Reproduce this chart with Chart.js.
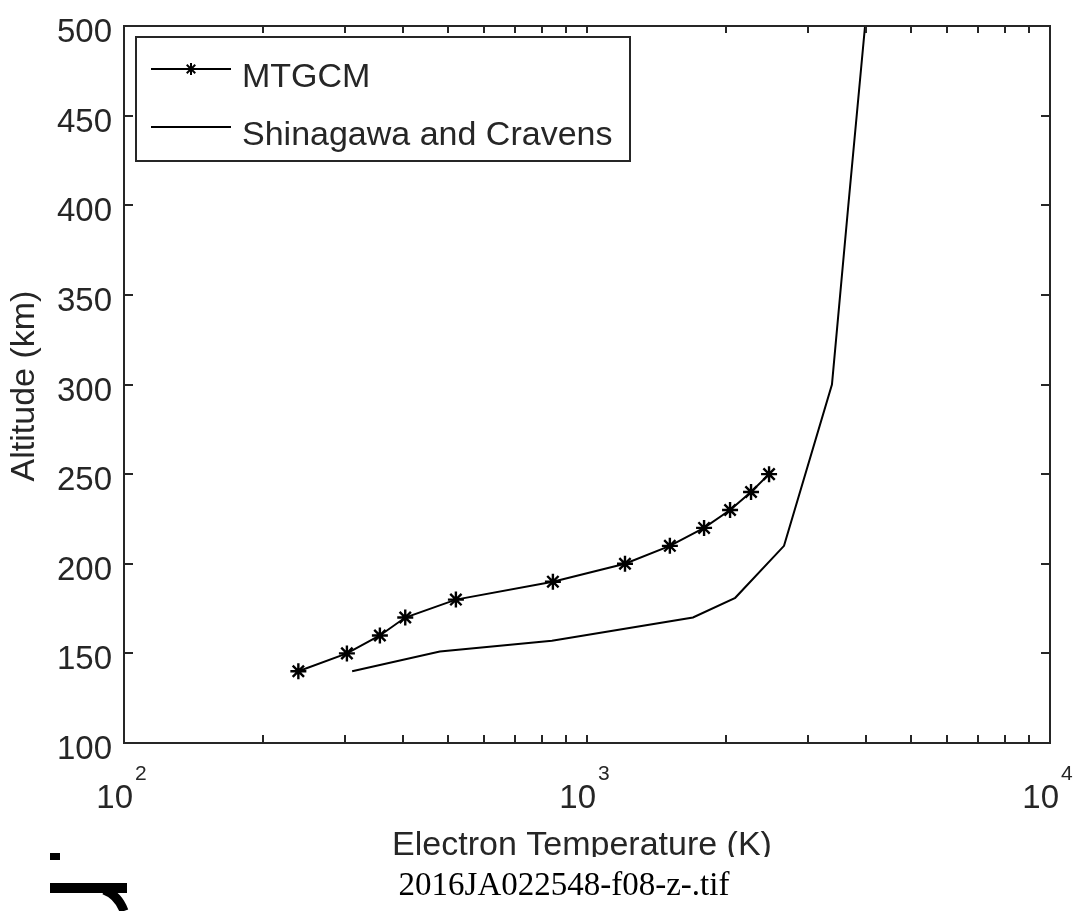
<!DOCTYPE html>
<html>
<head>
<meta charset="utf-8">
<script src="https://cdn.jsdelivr.net/npm/chart.js@4.4.1/dist/chart.umd.min.js"></script>
<style>
  html, body { margin: 0; padding: 0; background: #fff; }
  #wrap { width: 1081px; height: 911px; position: relative; }
  canvas { display: block; }
</style>
</head>
<body>
<div id="wrap"><canvas id="c" width="1081" height="911"></canvas></div>
<script>
// ---- data ----
const mtgcmTemp = [238, 303, 357, 405, 521, 844, 1208, 1510, 1790, 2037, 2261, 2473];
const mtgcmAlt  = [140, 150, 160, 170, 180, 190, 200, 210, 220, 230, 240, 250];
const scTemp    = [311, 481, 840, 1694, 2090, 2664, 3381, 3668, 3986];
const scAlt     = [140, 151, 157, 170, 181, 210, 300, 400, 500];
const seriesNames = ['MTGCM', 'Shinagawa and Cravens'];
const yTicks = [100, 150, 200, 250, 300, 350, 400, 450, 500];
const xMajorTicks = [100, 1000, 10000];
const xMajorExp = ['2', '3', '4'];
const xMinorTicks = [200, 300, 400, 500, 600, 700, 800, 900, 2000, 3000, 4000, 5000, 6000, 7000, 8000, 9000];
const xTitle = 'Electron Temperature (K)';
const yTitle = 'Altitude (km)';
const caption = '2016JA022548-f08-z-.tif';

const toPts = (xs, ys) => xs.map((x, i) => ({ x: x, y: ys[i] }));

const INK = '#262626';
const FONT = '"Liberation Sans", Arial, Helvetica, sans-serif';

const decor = {
  id: 'decor',
  afterDraw(chart) {
    const ctx = chart.ctx;
    const a = chart.chartArea;
    const xs = chart.scales.x, ys = chart.scales.y;
    ctx.save();
    ctx.strokeStyle = INK;
    ctx.fillStyle = INK;
    ctx.lineWidth = 2;
    // axes box
    ctx.strokeRect(a.left, a.top, a.right - a.left, a.bottom - a.top);
    // y ticks (inward, both sides)
    const tl = 9;
    ctx.beginPath();
    yTicks.forEach(v => {
      const py = Math.round(ys.getPixelForValue(v));
      ctx.moveTo(a.left, py); ctx.lineTo(a.left + tl, py);
      ctx.moveTo(a.right, py); ctx.lineTo(a.right - tl, py);
    });
    // x ticks (inward, top and bottom)
    xMajorTicks.concat(xMinorTicks).forEach(v => {
      const px = Math.round(xs.getPixelForValue(v));
      ctx.moveTo(px, a.bottom); ctx.lineTo(px, a.bottom - 8);
      ctx.moveTo(px, a.top); ctx.lineTo(px, a.top + 7);
    });
    ctx.stroke();

    // y tick labels
    ctx.font = '33px ' + FONT;
    ctx.textAlign = 'right';
    ctx.textBaseline = 'alphabetic';
    yTicks.forEach(v => {
      const py = ys.getPixelForValue(v);
      ctx.fillText(String(v), a.left - 12, py + 16);
    });
    // x tick labels 10^n
    xMajorTicks.forEach((v, i) => {
      const px = xs.getPixelForValue(v);
      ctx.font = '33px ' + FONT;
      ctx.textAlign = 'right';
      ctx.fillText('10', px + 9, a.bottom + 65);
      ctx.font = '21px ' + FONT;
      ctx.textAlign = 'left';
      ctx.fillText(xMajorExp[i], px + 11, a.bottom + 37);
    });

    // x axis title (cropped at bottom as in the reference)
    ctx.save();
    ctx.beginPath();
    ctx.rect(0, 780, 1081, 77);
    ctx.clip();
    ctx.font = '34px ' + FONT;
    ctx.textAlign = 'center';
    ctx.fillText(xTitle, 582, 855);
    ctx.restore();

    // y axis title
    ctx.save();
    ctx.translate(34, 386);
    ctx.rotate(-Math.PI / 2);
    ctx.font = '34px ' + FONT;
    ctx.textAlign = 'center';
    ctx.fillText(yTitle, 0, 0);
    ctx.restore();

    // legend
    const lx = 136, ly = 37, lw = 494, lh = 124;
    ctx.fillStyle = '#fff';
    ctx.fillRect(lx, ly, lw, lh);
    ctx.strokeStyle = INK;
    ctx.lineWidth = 2;
    ctx.strokeRect(lx, ly, lw, lh);
    ctx.fillStyle = INK;
    const rows = [69, 127];
    const ds = chart.data.datasets;
    rows.forEach((ry, i) => {
      ctx.strokeStyle = '#000';
      ctx.lineWidth = 2;
      ctx.beginPath();
      ctx.moveTo(151, ry); ctx.lineTo(231, ry);
      ctx.stroke();
      if (ds[i].pointRadius > 0) {
        Chart.helpers.drawPoint(ctx, {
          pointStyle: 'star', radius: 6, borderWidth: 2, rotation: 0
        }, 191, ry);
      }
      ctx.font = '34px ' + FONT;
      ctx.textAlign = 'left';
      ctx.fillStyle = INK;
      ctx.fillText(seriesNames[i], 242, ry + 18);
    });

    // caption below figure
    ctx.fillStyle = '#000';
    ctx.font = '33px "Liberation Serif", "Times New Roman", serif';
    ctx.textAlign = 'center';
    ctx.fillText(caption, 564, 895);

    // cropped glyph fragment at lower left
    ctx.fillRect(50, 853, 10, 7);
    ctx.fillRect(50, 883, 77, 10);
    ctx.lineWidth = 9;
    ctx.strokeStyle = '#000';
    ctx.beginPath();
    ctx.moveTo(104, 890);
    ctx.quadraticCurveTo(118, 895, 124, 911);
    ctx.stroke();
    ctx.restore();
  }
};

new Chart(document.getElementById('c'), {
  type: 'scatter',
  data: {
    datasets: [
      {
        label: seriesNames[0],
        data: toPts(mtgcmTemp, mtgcmAlt),
        showLine: true,
        borderColor: '#000',
        backgroundColor: '#000',
        borderWidth: 2,
        pointStyle: 'star',
        pointRadius: 8,
        pointBorderWidth: 2.4,
        pointBorderColor: '#000',
        tension: 0
      },
      {
        label: seriesNames[1],
        data: toPts(scTemp, scAlt),
        showLine: true,
        borderColor: '#000',
        backgroundColor: '#000',
        borderWidth: 2,
        pointRadius: 0,
        tension: 0
      }
    ]
  },
  options: {
    responsive: false,
    animation: false,
    devicePixelRatio: 1,
    layout: { padding: { left: 124, top: 26, right: 31, bottom: 168 } },
    plugins: { legend: { display: false }, tooltip: { enabled: false } },
    scales: {
      x: { type: 'logarithmic', min: 100, max: 10000, display: false },
      y: { type: 'linear', min: 100, max: 500, display: false }
    }
  },
  plugins: [decor]
});
</script>
</body>
</html>
